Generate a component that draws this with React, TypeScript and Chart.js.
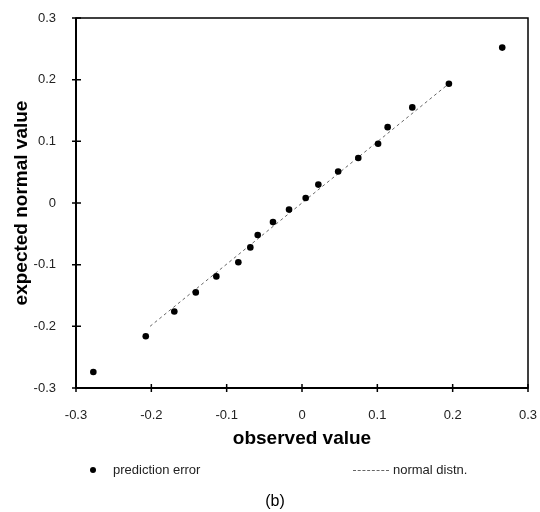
import React, { useEffect, useRef } from "react";
import { Chart, registerables } from "chart.js";

Chart.register(...registerables);

// observed value (x) and expected normal value (y) for the prediction errors
const observedValues = [
  -0.277, -0.2074, -0.1695, -0.141, -0.1137, -0.0845, -0.0686, -0.0588, -0.0385, -0.0172,
  0.0049, 0.0217, 0.048, 0.0747, 0.101, 0.1137, 0.1464, 0.195, 0.2658,
];
const expectedValues = [
  -0.274, -0.216, -0.176, -0.145, -0.119, -0.096, -0.072, -0.052, -0.031, -0.0107,
  0.008, 0.0298, 0.051, 0.073, 0.096, 0.123, 0.155, 0.1935, 0.252,
];
// normal distribution reference line (end points)
const normalLineX = [-0.2017, 0.195];
const normalLineY = [-0.2, 0.1935];

const axisTicks = [-0.3, -0.2, -0.1, 0, 0.1, 0.2, 0.3];

const FONT = "'Liberation Sans', Arial, Helvetica, sans-serif";

const fmt = (v: number) => {
  const r = Math.round(v * 10) / 10;
  return r === 0 ? "0" : String(r);
};

const framePlugin = {
  id: "framePlugin",
  afterDraw(chart: any) {
    const { ctx, chartArea } = chart;
    const xs = chart.scales.x;
    const ys = chart.scales.y;
    const { left, right, top, bottom } = chartArea;
    ctx.save();
    ctx.strokeStyle = "#000";
    ctx.lineWidth = 1.5;
    ctx.strokeRect(left, top, right - left, bottom - top);
    ctx.lineWidth = 2;
    ctx.beginPath();
    ctx.moveTo(left, top);
    ctx.lineTo(left, bottom);
    ctx.lineTo(right, bottom);
    ctx.stroke();
    ctx.lineWidth = 1.5;
    ctx.beginPath();
    axisTicks.forEach((t) => {
      const px = xs.getPixelForValue(t);
      ctx.moveTo(px, bottom - 4);
      ctx.lineTo(px, bottom + 4);
      const py = ys.getPixelForValue(t);
      ctx.moveTo(left - 4, py);
      ctx.lineTo(left + 5, py);
    });
    ctx.stroke();
    ctx.restore();
  },
};

export default function App() {
  const canvasRef = useRef<HTMLCanvasElement | null>(null);

  useEffect(() => {
    if (!canvasRef.current) return;
    Chart.defaults.font.family = FONT;
    const points = observedValues.map((x, i) => ({ x, y: expectedValues[i] }));
    const line = normalLineX.map((x, i) => ({ x, y: normalLineY[i] }));
    const chart = new Chart(canvasRef.current, {
      type: "scatter",
      data: {
        datasets: [
          {
            label: "prediction error",
            data: points,
            backgroundColor: "#000",
            borderColor: "#000",
            borderWidth: 0,
            pointRadius: 3.3,
          },
          {
            label: "normal distn.",
            data: line,
            showLine: true,
            borderColor: "#666",
            borderWidth: 1,
            borderDash: [3, 3],
            pointRadius: 0,
          },
        ],
      },
      options: {
        responsive: false,
        animation: false,
        devicePixelRatio: 1,
        layout: { padding: { left: 0, right: 12, top: 18, bottom: 0 } },
        plugins: { legend: { display: false }, tooltip: { enabled: false } },
        scales: {
          x: {
            type: "linear",
            min: -0.3,
            max: 0.3,
            afterBuildTicks: (s: any) => {
              s.ticks = axisTicks.map((v) => ({ value: v }));
            },
            afterFit: (s: any) => {
              s.height = 124;
              s.paddingLeft = 0;
              s.paddingRight = 0;
            },
            grid: { display: false },
            border: { display: false },
            ticks: {
              padding: 12,
              color: "#222",
              font: { size: 13 },
              callback: (v: any) => fmt(Number(v)),
            },
            title: {
              display: true,
              text: "observed value",
              color: "#000",
              font: { size: 19, weight: "bold" },
              padding: { top: 0, bottom: 62 },
            },
          },
          y: {
            type: "linear",
            min: -0.3,
            max: 0.3,
            afterBuildTicks: (s: any) => {
              s.ticks = axisTicks.map((v) => ({ value: v }));
            },
            afterFit: (s: any) => {
              s.width = 76;
              s.paddingTop = 0;
              s.paddingBottom = 0;
            },
            grid: { display: false },
            border: { display: false },
            ticks: {
              padding: 12,
              color: "#222",
              font: { size: 13 },
              callback: (v: any) => fmt(Number(v)),
            },
            title: {
              display: true,
              text: "expected normal value",
              color: "#000",
              font: { size: 19, weight: "bold" },
              padding: { top: 10, bottom: 0 },
            },
          },
        },
      },
      plugins: [framePlugin],
    } as any);
    return () => chart.destroy();
  }, []);

  const textStyle: React.CSSProperties = {
    position: "absolute",
    fontFamily: FONT,
    fontSize: 13,
    color: "#222",
    lineHeight: "16px",
    whiteSpace: "nowrap",
  };

  return (
    <div style={{ position: "absolute", left: 0, top: 0, width: 540, height: 512, background: "#fff" }}>
      <canvas ref={canvasRef} width={540} height={512} style={{ position: "absolute", left: 0, top: 0 }} />
      <div
        style={{
          position: "absolute",
          left: 90,
          top: 467,
          width: 6,
          height: 6,
          borderRadius: 3,
          background: "#000",
        }}
      />
      <div style={{ ...textStyle, left: 113, top: 462 }}>prediction error</div>
      <div
        style={{
          position: "absolute",
          left: 353,
          top: 470,
          width: 36,
          height: 0,
          borderTop: "1px dashed #666",
        }}
      />
      <div style={{ ...textStyle, left: 393, top: 462 }}>normal distn.</div>
      <div
        style={{
          ...textStyle,
          left: 275,
          top: 491,
          fontSize: 16,
          lineHeight: "20px",
          transform: "translateX(-50%)",
          color: "#000",
        }}
      >
        (b)
      </div>
    </div>
  );
}
